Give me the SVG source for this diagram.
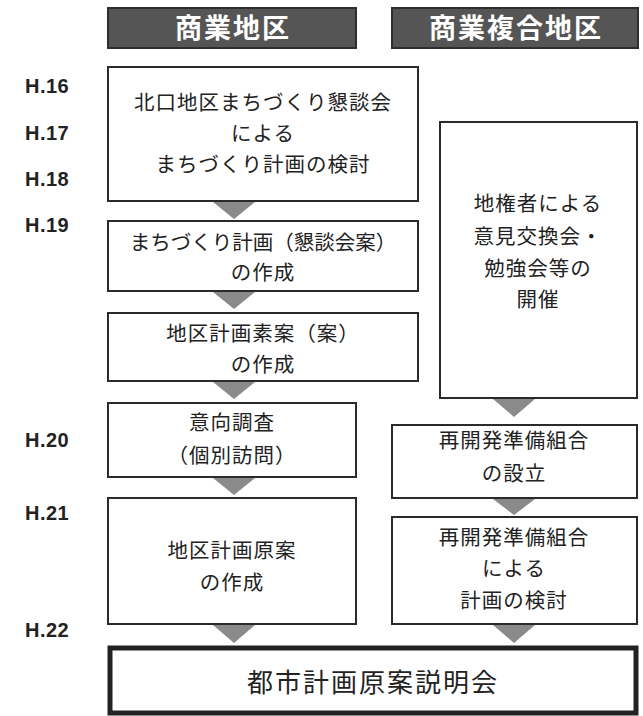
<svg xmlns="http://www.w3.org/2000/svg" width="643" height="716" viewBox="0 0 643 716">
<style>
.hdr{fill:#555555;stroke:#2e2e2e;stroke-width:2}
.hdrt{font-family:"Noto Sans CJK JP","Noto Sans",sans-serif;font-weight:bold;font-size:27px;fill:#ffffff;text-anchor:middle;letter-spacing:2px}
.box{fill:#ffffff;stroke:#2a2a2a;stroke-width:2}
.big{fill:#ffffff;stroke:#222222;stroke-width:5}
.t{font-family:"Noto Sans CJK JP","Noto Sans",sans-serif;font-size:20.5px;fill:#222222;text-anchor:middle;letter-spacing:1px}
.tb{font-family:"Noto Sans CJK JP","Noto Sans",sans-serif;font-size:26px;fill:#222222;text-anchor:middle;letter-spacing:2px}
.yr{font-family:"Liberation Sans",Arial,sans-serif;font-weight:bold;font-size:20px;fill:#222222;letter-spacing:0.5px}
.arr{fill:#8a8a8a}
</style>
<rect width="643" height="716" fill="#ffffff"/>
<g id="header-commercial"><rect class="hdr" x="108" y="8" width="248" height="40"/><text class="hdrt" x="233" y="38">商業地区</text></g>
<g id="header-mixed"><rect class="hdr" x="392" y="8" width="246" height="40"/><text class="hdrt" x="516" y="38">商業複合地区</text></g>
<g id="years">
<text class="yr" x="25" y="93">H.16</text>
<text class="yr" x="25" y="140">H.17</text>
<text class="yr" x="25" y="186">H.18</text>
<text class="yr" x="25" y="232">H.19</text>
<text class="yr" x="25" y="447">H.20</text>
<text class="yr" x="25" y="520">H.21</text>
<text class="yr" x="25" y="637">H.22</text>
</g>
<g id="n1"><rect class="box" x="108" y="67" width="310" height="134"/>
<text class="t" x="263" y="110">北口地区まちづくり懇談会</text>
<text class="t" x="263" y="141">による</text>
<text class="t" x="263" y="172">まちづくり計画の検討</text></g>
<g id="n2"><rect class="box" x="108" y="221" width="310" height="70"/>
<text class="t" x="263" y="250" style="letter-spacing:0">まちづくり計画（懇談会案）</text>
<text class="t" x="263" y="280">の作成</text></g>
<g id="n3"><rect class="box" x="108" y="313" width="310" height="68"/>
<text class="t" x="263" y="341">地区計画素案（案）</text>
<text class="t" x="263" y="372">の作成</text></g>
<g id="n4"><rect class="box" x="108" y="403" width="248" height="74"/>
<text class="t" x="232" y="430">意向調査</text>
<text class="t" x="232" y="463">（個別訪問）</text></g>
<g id="n5"><rect class="box" x="108" y="498" width="248" height="126"/>
<text class="t" x="232" y="558">地区計画原案</text>
<text class="t" x="232" y="590">の作成</text></g>
<g id="n6"><rect class="box" x="440" y="122" width="197" height="276"/>
<text class="t" x="538" y="211">地権者による</text>
<text class="t" x="538" y="244">意見交換会・</text>
<text class="t" x="538" y="276">勉強会等の</text>
<text class="t" x="538" y="307">開催</text></g>
<g id="n7"><rect class="box" x="392" y="425" width="245" height="73"/>
<text class="t" x="514" y="448">再開発準備組合</text>
<text class="t" x="514" y="481">の設立</text></g>
<g id="n8"><rect class="box" x="392" y="517" width="245" height="107"/>
<text class="t" x="514" y="545">再開発準備組合</text>
<text class="t" x="514" y="576">による</text>
<text class="t" x="514" y="608">計画の検討</text></g>
<g id="n9"><rect class="big" x="110" y="648" width="526" height="65"/>
<text class="tb" x="373" y="692">都市計画原案説明会</text></g>
<g id="connectors">
<polygon class="arr" points="213,202 255,202 234,219"/>
<polygon class="arr" points="213,292 255,292 234,309"/>
<polygon class="arr" points="213,382 255,382 234,399"/>
<polygon class="arr" points="213,478 255,478 234,495"/>
<polygon class="arr" points="213,625 255,625 234,643"/>
<polygon class="arr" points="493,399 535,399 514,417"/>
<polygon class="arr" points="493,499 535,499 514,515"/>
<polygon class="arr" points="493,625 535,625 514,643"/>
</g>
</svg>
